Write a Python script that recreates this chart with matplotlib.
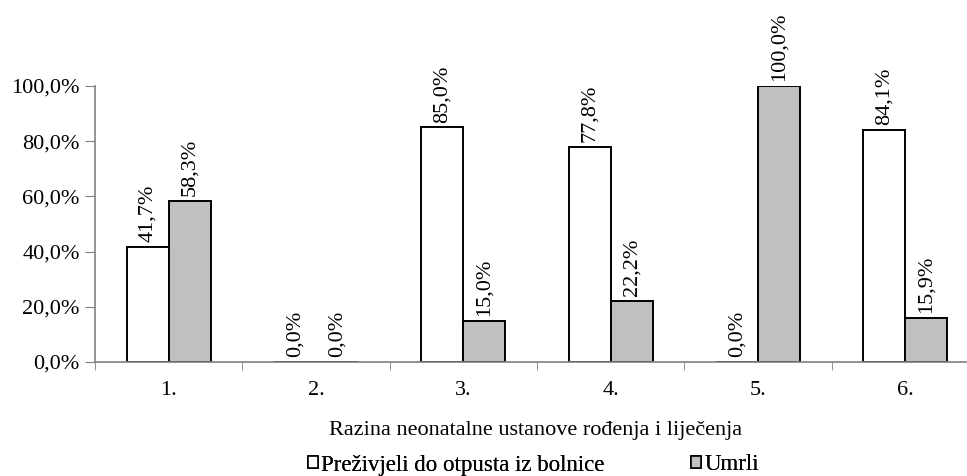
import numpy as np
import matplotlib
matplotlib.use("Agg")
import matplotlib.pyplot as plt
from matplotlib.patches import Patch

# Datos
categorias = ["1.", "2.", "3.", "4.", "5.", "6."]
prezivjeli = [41.7, 0.0, 85.0, 77.8, 0.0, 84.1]
umrli = [58.3, 0.0, 15.0, 22.2, 100.0, 15.9]
yticks = [0, 20, 40, 60, 80, 100]
series = ["Preživjeli do otpusta iz bolnice", "Umrli"]
colores = ["white", "#c0c0c0"]

plt.rcParams["font.family"] = ["Liberation Serif", "DejaVu Serif"]
fs = 16

fig = plt.figure(figsize=(9.67, 4.76), dpi=100)
ax = fig.add_axes([95 / 967, (476 - 362) / 476, 884 / 967, 276 / 476])

x = np.arange(len(categorias))
w = 0.285
b1 = ax.bar(x - w / 2, prezivjeli, w, color=colores[0], edgecolor="black", linewidth=1.4)
b2 = ax.bar(x + w / 2, umrli, w, color=colores[1], edgecolor="black", linewidth=1.4)

def fmt(v):
    return f"{v:.1f}%".replace(".", ",")

for bars, vals in ((b1, prezivjeli), (b2, umrli)):
    for r, v in zip(bars, vals):
        ax.annotate(fmt(v), (r.get_x() + r.get_width() / 2, v), xytext=(0, 3.5),
                    textcoords="offset points", rotation=90, ha="center", va="bottom",
                    fontsize=fs)

ax.set_xlim(-0.5, len(categorias) - 0.5)
ax.set_ylim(0, 100)
ax.set_yticks(yticks)
ax.set_yticklabels([fmt(v) for v in yticks], fontsize=fs)
ax.set_xticks(x)
ax.set_xticklabels(categorias, fontsize=fs)
ax.tick_params(axis="x", length=0, pad=14)
ax.set_xticks(np.arange(len(categorias) + 1) - 0.5, minor=True)
ax.tick_params(axis="x", which="minor", length=6, color="#808080")
ax.tick_params(axis="y", length=7, color="#808080", pad=4)

for s in ("top", "right"):
    ax.spines[s].set_visible(False)
for s in ("left", "bottom"):
    ax.spines[s].set_color("#808080")
    ax.spines[s].set_linewidth(1.2)

fig.text(536 / 967, 1 - 431 / 476, "Razina neonatalne ustanove rođenja i liječenja",
         ha="center", va="center", fontsize=fs)

# leyenda: dos partes colocadas por separado
for lbl, col, x0 in zip(series, colores, [308, 691]):
    leg = fig.legend([Patch(facecolor=col, edgecolor="black", linewidth=1.2)], [lbl],
                     loc="center left", bbox_to_anchor=(x0 / 967, 1 - 465 / 476),
                     frameon=False, fontsize=16.5, handlelength=0.42, handleheight=0.42,
                     handletextpad=0.15, borderpad=0, borderaxespad=0)
    fig.add_artist(leg)

fig.savefig("out.png", dpi=100)
